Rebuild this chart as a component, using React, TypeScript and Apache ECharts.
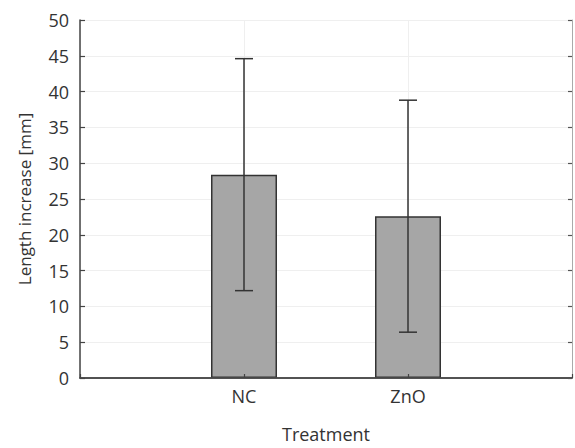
import React, { useEffect, useRef } from "react";
import * as echarts from "echarts";

const categories = ["", "NC", "ZnO", ""];
const means = [null, 28.4, 22.6, null];
const errLow = [null, 12.2, 6.4, null];
const errHigh = [null, 44.6, 38.8, null];
const yTicks = { min: 0, max: 50, interval: 5 };

const FONT = "'Open Sans', 'Noto Sans', sans-serif";
const TEXT = "#333";

export default function App() {
  const ref = useRef<HTMLDivElement>(null);
  useEffect(() => {
    if (!ref.current) return;
    const chart = echarts.init(ref.current, null, { renderer: "svg" });
    const barData = means.map((v) => (v == null ? "-" : v));
    const errData: any[] = [];
    categories.forEach((c, i) => {
      if (errLow[i] != null && errHigh[i] != null) errData.push([i, errLow[i], errHigh[i]]);
    });
    const hidden = { axisLine: { show: false }, axisTick: { show: false }, axisLabel: { show: false }, splitLine: { show: false } };
    chart.setOption({
      animation: false,
      textStyle: { fontFamily: FONT },
      grid: { left: 80, right: 1, top: 20, bottom: 68, show: false },
      xAxis: [
        {
          type: "category",
          data: categories,
          boundaryGap: false,
          z: 0,
          axisLine: { show: false },
          axisTick: { show: false },
          axisLabel: { color: TEXT, fontSize: 18, fontFamily: FONT, margin: 9 },
          splitLine: { show: true, lineStyle: { color: "#efefef", width: 1 } },
          name: "Treatment",
          nameLocation: "middle",
          nameGap: 47,
          nameTextStyle: { color: TEXT, fontSize: 18, fontFamily: FONT },
        },
        {
          type: "category",
          data: categories,
          boundaryGap: false,
          position: "top",
          z: 5,
          ...hidden,
          axisLine: { show: true, lineStyle: { color: "#555", width: 1.5 } },
        },
        {
          type: "category",
          data: categories,
          boundaryGap: false,
          position: "bottom",
          z: 5,
          ...hidden,
          axisLine: { show: true, lineStyle: { color: "#444", width: 1.5 } },
          axisTick: { show: true, inside: true, length: 4, lineStyle: { color: "#444", width: 1.2 } },
        },
      ],
      yAxis: [
        {
          type: "value",
          min: yTicks.min,
          max: yTicks.max,
          interval: yTicks.interval,
          z: 0,
          axisLine: { show: false },
          axisTick: { show: false },
          axisLabel: { color: TEXT, fontSize: 18, fontFamily: FONT, margin: 11 },
          splitLine: { show: true, lineStyle: { color: "#efefef", width: 1 } },
          name: "Length increase [mm]",
          nameLocation: "middle",
          nameGap: 47,
          nameTextStyle: { color: TEXT, fontSize: 17, fontFamily: FONT },
        },
        {
          type: "value",
          min: yTicks.min,
          max: yTicks.max,
          interval: yTicks.interval,
          position: "left",
          z: 5,
          ...hidden,
          axisLine: { show: true, lineStyle: { color: "#444", width: 1.5 } },
          axisTick: { show: true, inside: true, length: 5, lineStyle: { color: "#444", width: 1.2 } },
        },
        {
          type: "value",
          min: yTicks.min,
          max: yTicks.max,
          interval: yTicks.interval,
          position: "right",
          z: 5,
          ...hidden,
          axisLine: { show: true, lineStyle: { color: "#aaa", width: 1 } },
          axisTick: { show: true, inside: true, length: 4, lineStyle: { color: "#555", width: 1.2 } },
        },
      ],
      series: [
        {
          type: "bar",
          data: barData,
          barWidth: 66,
          itemStyle: { color: "#a6a6a6", borderColor: "#333", borderWidth: 1.5 },
          z: 2,
        },
        {
          type: "custom",
          data: errData,
          z: 3,
          encode: { x: 0, y: [1, 2] },
          renderItem: (params: any, api: any) => {
            const x = api.value(0);
            const lo = api.coord([x, api.value(1)]);
            const hi = api.coord([x, api.value(2)]);
            const half = 9;
            const style = { stroke: "#333", lineWidth: 1.5 };
            return {
              type: "group",
              children: [
                { type: "line", shape: { x1: lo[0], y1: lo[1], x2: hi[0], y2: hi[1] }, style },
                { type: "line", shape: { x1: hi[0] - half, y1: hi[1], x2: hi[0] + half, y2: hi[1] }, style },
                { type: "line", shape: { x1: lo[0] - half, y1: lo[1], x2: lo[0] + half, y2: lo[1] }, style },
              ],
            };
          },
        },
      ],
    });
    return () => chart.dispose();
  }, []);
  return (
    <div
      ref={ref}
      style={{ position: "fixed", left: 0, top: 0, width: 575, height: 448, background: "#fff" }}
    />
  );
}
